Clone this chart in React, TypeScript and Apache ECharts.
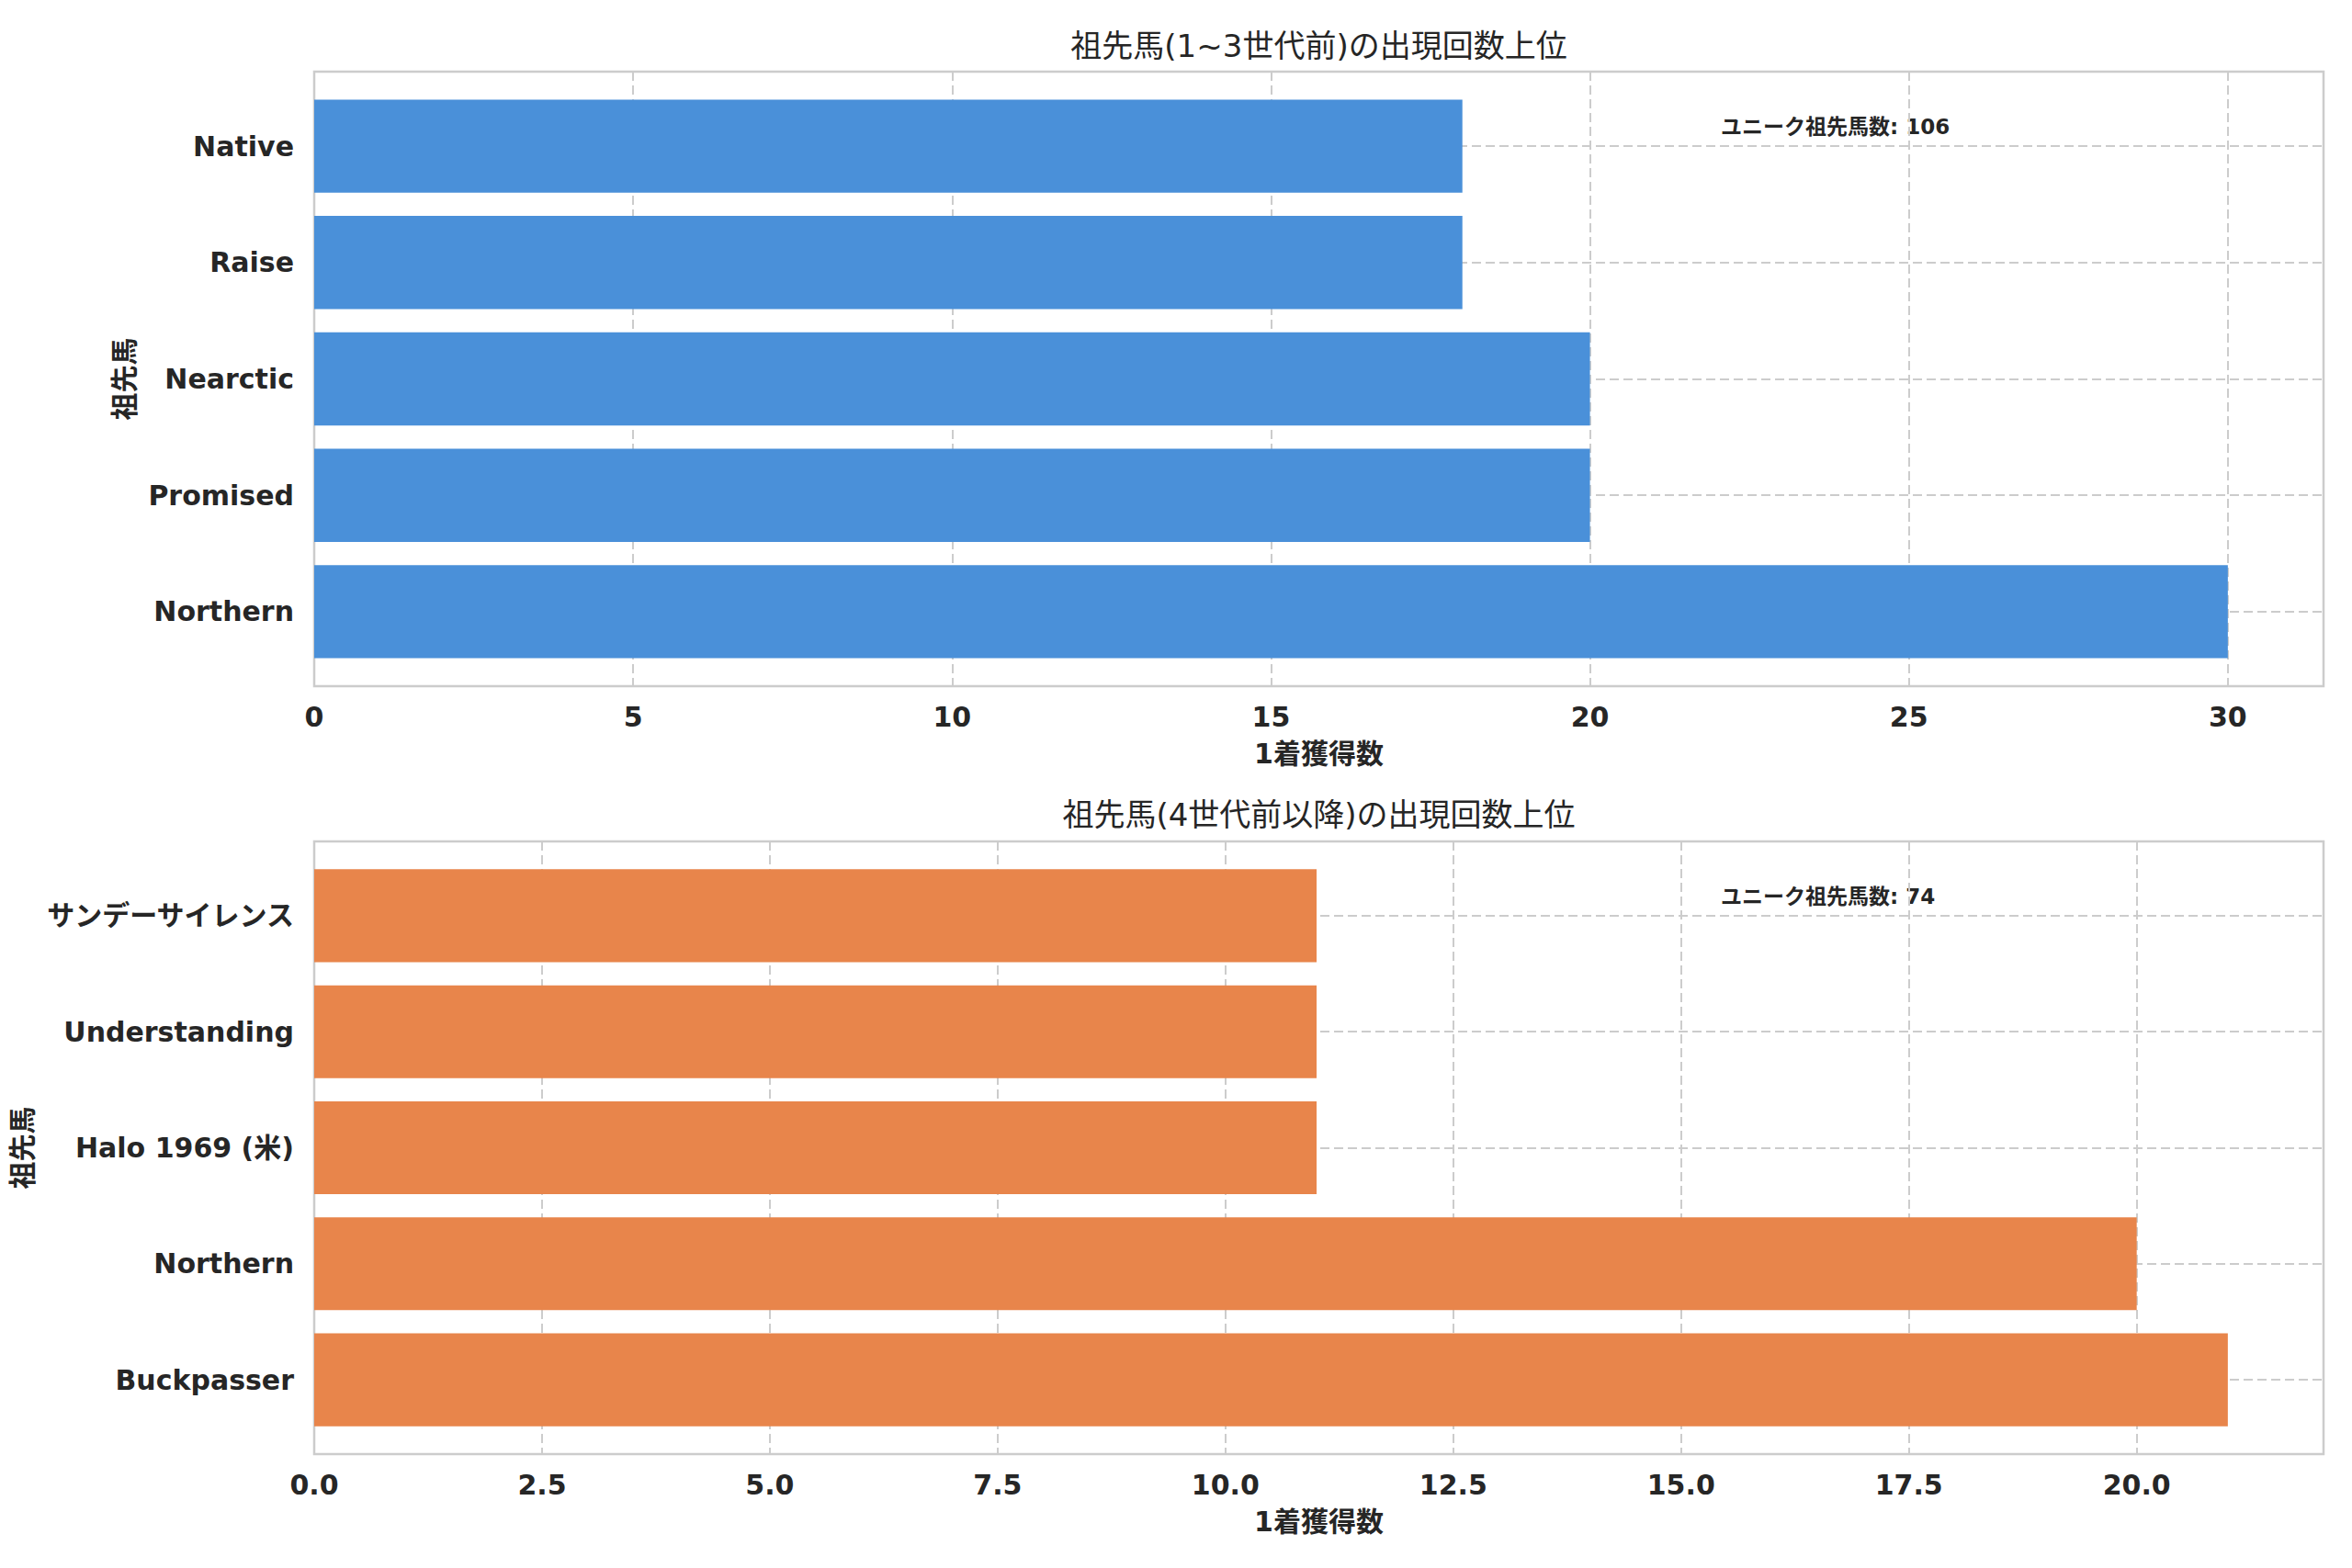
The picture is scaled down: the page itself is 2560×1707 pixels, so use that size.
import React, { useEffect, useRef } from "react";
import * as echarts from "echarts";

// ---- data ----
const topCategories = ["Native", "Raise", "Nearctic", "Promised", "Northern"];
const topValues = [18, 18, 20, 20, 30];
const bottomCategories = ["サンデーサイレンス", "Understanding", "Halo 1969 (米)", "Northern", "Buckpasser"];
const bottomValues = [11, 11, 11, 20, 21];
const topTitle = "祖先馬(1~3世代前)の出現回数上位";
const bottomTitle = "祖先馬(4世代前以降)の出現回数上位";
const xAxisName = "1着獲得数";
const yAxisName = "祖先馬";
const topNote = "ユニーク祖先馬数: 106";
const bottomNote = "ユニーク祖先馬数: 74";
const topTickStep = 5;
const bottomTickStep = 2.5;

// ---- styling / layout ----
const W = 2560;
const H = 1707;
const FONT = "'DejaVu Sans', 'Noto Sans CJK JP', sans-serif";
const TEXT = "#262626";
const GRID_LINE = "#cccccc";
const BLUE = "#4a90d9";
const ORANGE = "#e8854b";
const LEFT = 342;
const WIDTH = 2187;

function panel(
  idx: number,
  frameTop: number,
  frameH: number,
  cats: string[],
  vals: number[],
  color: string,
  step: number,
  decimals: number,
  yNameGap: number
) {
  const maxV = Math.max(...vals) * 1.05;
  // matplotlib: data span (n-1+0.8) with 5% margins on each side
  const span = (cats.length - 1 + 0.8) * 1.1;
  const u = frameH / span;
  const innerH = u * cats.length;
  const innerTop = frameTop + (frameH - innerH) / 2;
  const grids = [
    {
      left: LEFT,
      width: WIDTH,
      top: frameTop,
      height: frameH,
      show: true,
      borderColor: GRID_LINE,
      borderWidth: 2.5,
      backgroundColor: "transparent",
    },
    { left: LEFT, width: WIDTH, top: innerTop, height: innerH },
  ];
  const xAxes = [
    {
      type: "value",
      gridIndex: idx * 2,
      min: 0,
      max: maxV,
      interval: step,
      axisLine: { show: false },
      axisTick: { show: false },
      axisLabel: {
        showMaxLabel: false,
        color: TEXT,
        fontFamily: FONT,
        fontWeight: "bold",
        fontSize: 30,
        margin: 18,
        formatter: (v: number) => v.toFixed(decimals),
      },
      splitLine: {
        show: true,
        lineStyle: { color: GRID_LINE, width: 2, type: [10, 5] },
      },
      name: xAxisName,
      nameLocation: "middle",
      nameGap: 58,
      nameTextStyle: { color: TEXT, fontFamily: FONT, fontWeight: "bold", fontSize: 30 },
    },
    {
      type: "value",
      gridIndex: idx * 2 + 1,
      min: 0,
      max: maxV,
      show: false,
    },
  ];
  const yAxes = [
    { type: "value", gridIndex: idx * 2, min: 0, max: 1, show: false },
    {
      type: "category",
      gridIndex: idx * 2 + 1,
      data: cats,
      inverse: true,
      axisLine: { show: false },
      axisTick: { show: false },
      axisLabel: {
        color: TEXT,
        fontFamily: FONT,
        fontWeight: "bold",
        fontSize: 30,
        margin: 22,
      },
      splitLine: {
        show: true,
        alignWithLabel: true,
        lineStyle: { color: GRID_LINE, width: 2, type: [10, 5] },
      },
      name: yAxisName,
      nameLocation: "middle",
      nameGap: yNameGap,
      nameTextStyle: { color: TEXT, fontFamily: FONT, fontWeight: "bold", fontSize: 30 },
    },
  ];
  const series = [
    {
      type: "bar",
      xAxisIndex: idx * 2 + 1,
      yAxisIndex: idx * 2 + 1,
      data: vals,
      barWidth: u * 0.8,
      itemStyle: { color },
      z: 3,
    },
  ];
  return { grids, xAxes, yAxes, series };
}

export default function App() {
  const ref = useRef<HTMLDivElement>(null);
  useEffect(() => {
    document.body.style.margin = "0";
    const chart = echarts.init(ref.current!, null, { renderer: "svg", width: W, height: H });
    const p1 = panel(0, 78, 669, topCategories, topValues, BLUE, topTickStep, 0, 190);
    const p2 = panel(1, 916, 667, bottomCategories, bottomValues, ORANGE, bottomTickStep, 1, 281);
    const textStyle = (size: number, weight: string) => ({
      fill: TEXT,
      fontFamily: FONT,
      fontSize: size,
      fontWeight: weight,
    });
    chart.setOption({
      animation: false,
      backgroundColor: "#ffffff",
      grid: [...p1.grids, ...p2.grids],
      xAxis: [...p1.xAxes, ...p2.xAxes],
      yAxis: [...p1.yAxes, ...p2.yAxes],
      series: [...p1.series, ...p2.series],
      graphic: [
        {
          type: "text",
          x: LEFT + WIDTH / 2,
          y: 50,
          style: { ...textStyle(34, "normal"), text: topTitle, textAlign: "center", textVerticalAlign: "middle" },
        },
        {
          type: "text",
          x: LEFT + WIDTH / 2,
          y: 887,
          style: { ...textStyle(34, "normal"), text: bottomTitle, textAlign: "center", textVerticalAlign: "middle" },
        },
        {
          type: "text",
          x: 1873,
          y: 138,
          style: { ...textStyle(23, "bold"), text: topNote, textAlign: "left", textVerticalAlign: "middle" },
        },
        {
          type: "text",
          x: 1873,
          y: 976,
          style: { ...textStyle(23, "bold"), text: bottomNote, textAlign: "left", textVerticalAlign: "middle" },
        },
      ],
    });
    return () => chart.dispose();
  }, []);
  return (
    <div
      ref={ref}
      style={{ position: "absolute", left: 0, top: 0, width: W, height: H, background: "#fff" }}
    />
  );
}
